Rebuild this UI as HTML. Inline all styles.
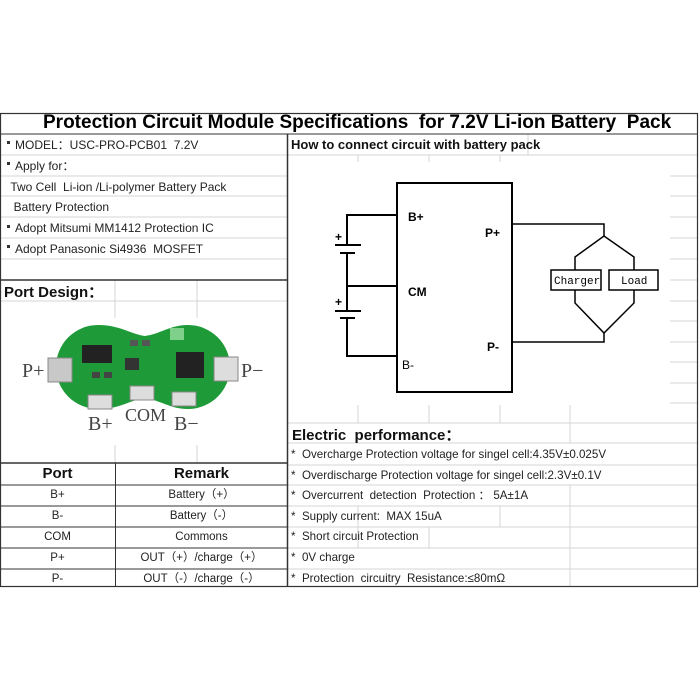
<!DOCTYPE html>
<html><head><style>
body{margin:0;width:700px;height:700px;background:#fff;position:relative;font-family:"Liberation Sans",Arial,sans-serif;overflow:hidden}
.t{position:absolute;white-space:nowrap;color:#222}
.b{display:inline-block;width:3px;height:3px;background:#333;vertical-align:middle;margin-right:5px;position:relative;top:-3px}
</style></head><body>
<svg width="700" height="700" style="position:absolute;left:0;top:0" font-family="Liberation Sans, Arial, sans-serif">
<g stroke="#d4d4d4" stroke-width="1">
<line x1="0" y1="176" x2="287" y2="176"/><line x1="0" y1="196" x2="287" y2="196"/><line x1="0" y1="217" x2="287" y2="217"/><line x1="0" y1="238" x2="287" y2="238"/><line x1="0" y1="259" x2="287" y2="259"/>
<line x1="115" y1="280" x2="115" y2="318"/><line x1="197" y1="280" x2="197" y2="318"/>
<line x1="0" y1="301" x2="287" y2="301"/>
<line x1="115" y1="445" x2="115" y2="463"/><line x1="197" y1="445" x2="197" y2="463"/>
<line x1="287" y1="155" x2="698" y2="155"/>
<line x1="358" y1="155" x2="358" y2="162"/><line x1="429" y1="155" x2="429" y2="162"/><line x1="500" y1="155" x2="500" y2="162"/>
<line x1="528" y1="134" x2="528" y2="155"/>
<line x1="670" y1="176" x2="698" y2="176"/><line x1="670" y1="196" x2="698" y2="196"/><line x1="670" y1="217" x2="698" y2="217"/><line x1="670" y1="238" x2="698" y2="238"/><line x1="670" y1="259" x2="698" y2="259"/><line x1="670" y1="280" x2="698" y2="280"/><line x1="670" y1="301" x2="698" y2="301"/><line x1="670" y1="321" x2="698" y2="321"/><line x1="670" y1="342" x2="698" y2="342"/><line x1="670" y1="362" x2="698" y2="362"/><line x1="670" y1="383" x2="698" y2="383"/><line x1="670" y1="403" x2="698" y2="403"/>
<line x1="358" y1="405" x2="358" y2="423"/><line x1="429" y1="405" x2="429" y2="423"/><line x1="500" y1="405" x2="500" y2="423"/><line x1="570" y1="405" x2="570" y2="443"/>
<line x1="287" y1="423" x2="698" y2="423"/>
<line x1="287" y1="443" x2="698" y2="443"/><line x1="287" y1="465" x2="698" y2="465"/><line x1="287" y1="485" x2="698" y2="485"/><line x1="287" y1="506" x2="698" y2="506"/><line x1="287" y1="527" x2="698" y2="527"/><line x1="287" y1="548" x2="698" y2="548"/><line x1="287" y1="569" x2="698" y2="569"/>
<line x1="358" y1="506" x2="358" y2="548"/><line x1="429" y1="527" x2="429" y2="548"/><line x1="500" y1="506" x2="500" y2="527"/><line x1="570" y1="485" x2="570" y2="587"/>
<line x1="0" y1="155" x2="287" y2="155"/>
</g>
<g stroke="#333" fill="none">
<rect x="0.5" y="113.5" width="697" height="473" stroke-width="1.2"/>
<line x1="0" y1="134" x2="698" y2="134" stroke-width="1"/>
<line x1="287.5" y1="134" x2="287.5" y2="587" stroke-width="1.5"/>
<line x1="0" y1="280" x2="287" y2="280" stroke-width="1.5"/>
<line x1="0" y1="463" x2="287" y2="463" stroke-width="1.5"/>
<line x1="115.5" y1="463" x2="115.5" y2="587"/>
<line x1="0" y1="485" x2="287" y2="485"/><line x1="0" y1="506" x2="287" y2="506"/><line x1="0" y1="527" x2="287" y2="527"/><line x1="0" y1="548" x2="287" y2="548"/><line x1="0" y1="569" x2="287" y2="569"/>
</g>
<g stroke="#000" stroke-width="2" fill="none">
<rect x="397" y="183" width="115" height="209"/>
<polyline points="397,215 347,215 347,245"/>
<line x1="335" y1="245" x2="361" y2="245"/>
<line x1="340" y1="253" x2="355" y2="253"/>
<line x1="347" y1="253" x2="347" y2="311"/>
<line x1="347" y1="286" x2="397" y2="286"/>
<line x1="335" y1="311" x2="361" y2="311"/>
<line x1="340" y1="318" x2="355" y2="318"/>
<polyline points="347,318 347,356 397,356"/>
</g>
<g stroke="#000" stroke-width="1.5" fill="none">
<polyline points="512,224 604,224 604,236"/>
<polyline points="575,270 575,257 604,236 634,257 634,270"/>
<polyline points="575,290 575,303 604,333 634,303 634,290"/>
<polyline points="604,333 604,342 512,342"/>
<rect x="551" y="270" width="50" height="20"/>
<rect x="609" y="270" width="49" height="20"/>
</g>
<g font-size="12" font-weight="bold" fill="#000">
<text x="335" y="241">+</text><text x="335" y="306">+</text>
<text x="408" y="221">B+</text>
<text x="485" y="237">P+</text>
<text x="408" y="296">CM</text>
<text x="487" y="351">P-</text>
<text x="402" y="369" font-weight="normal">B-</text>
</g>
<g font-family="Liberation Mono,monospace" font-size="11" fill="#000">
<text x="554" y="284">Charger</text><text x="621" y="284">Load</text>
</g>
<g>
<path d="M98,325 A42,42 0 0 0 98,409 C120,409 130,400 145,398 C160,400 170,409 188,409 A42,42 0 0 0 188,325 C170,325 160,334 145,336 C130,334 120,325 98,325Z" fill="#1f9a38"/>
<rect x="82" y="345" width="30" height="18" fill="#222"/>
<rect x="176" y="352" width="28" height="26" fill="#222"/>
<rect x="125" y="358" width="14" height="12" fill="#333"/>
<rect x="130" y="340" width="8" height="6" fill="#555"/><rect x="142" y="340" width="8" height="6" fill="#555"/>
<rect x="92" y="372" width="8" height="6" fill="#444"/><rect x="104" y="372" width="8" height="6" fill="#444"/>
<rect x="170" y="328" width="14" height="12" fill="#7fd08a"/>
<rect x="48" y="358" width="24" height="24" fill="#c8c8c8" stroke="#888"/>
<rect x="214" y="357" width="24" height="24" fill="#ddd" stroke="#888"/>
<rect x="88" y="395" width="24" height="14" fill="#ddd" stroke="#888"/>
<rect x="130" y="386" width="24" height="14" fill="#ddd" stroke="#888"/>
<rect x="172" y="392" width="24" height="14" fill="#ddd" stroke="#888"/>
</g>
<g font-family="Liberation Serif,serif" font-size="20" fill="#444">
<text x="22" y="377">P+</text><text x="241" y="377">P−</text>
<text x="88" y="430">B+</text><text x="125" y="421" font-size="18">COM</text><text x="174" y="430">B−</text>
</g>
</svg>
<div class="t" style="left:43px;top:112px;font-size:19px;font-weight:bold;color:#000">Protection Circuit Module Specifications&nbsp; for 7.2V Li-ion Battery&nbsp; Pack</div>
<div style="position:absolute;left:7px;top:135px;font-size:12px;line-height:20.8px;color:#222">
<div><span class="b"></span>MODEL：USC-PRO-PCB01&nbsp; 7.2V</div>
<div><span class="b"></span>Apply for：</div>
<div>&nbsp;Two Cell&nbsp; Li-ion /Li-polymer Battery Pack</div>
<div>&nbsp; Battery Protection</div>
<div><span class="b"></span>Adopt Mitsumi MM1412 Protection IC</div>
<div><span class="b"></span>Adopt Panasonic Si4936&nbsp; MOSFET</div>
</div>
<div class="t" style="left:4px;top:281px;font-size:15px;font-weight:bold;color:#111">Port Design：</div>
<div class="t" style="left:291px;top:137px;font-size:13px;font-weight:bold;color:#111">How to connect circuit with battery pack</div>
<div class="t" style="left:292px;top:424px;font-size:15px;font-weight:bold;color:#111">Electric&nbsp; performance：</div>
<div style="position:absolute;left:291px;top:445px;font-size:11.6px;line-height:20.6px;color:#222">
<div>*&nbsp; Overcharge Protection voltage for singel cell:4.35V±0.025V</div>
<div>*&nbsp; Overdischarge Protection voltage for singel cell:2.3V±0.1V</div>
<div>*&nbsp; Overcurrent&nbsp; detection&nbsp; Protection ：&nbsp;5A±1A</div>
<div>*&nbsp; Supply current:&nbsp; MAX 15uA</div>
<div>*&nbsp; Short circuit Protection</div>
<div>*&nbsp; 0V charge</div>
<div>*&nbsp; Protection&nbsp; circuitry&nbsp; Resistance:≤80mΩ</div>
</div>
<div style="position:absolute;left:0;top:463px;width:115px;text-align:center;font-size:11.5px;color:#222">
<div style="font-size:15px;font-weight:bold;color:#111;line-height:22px">Port</div>
<div style="line-height:21px">B+</div><div style="line-height:21px">B-</div><div style="line-height:21px">COM</div><div style="line-height:21px">P+</div><div style="line-height:21px">P-</div>
</div>
<div style="position:absolute;left:116px;top:463px;width:171px;text-align:center;font-size:11.5px;color:#222">
<div style="font-size:15px;font-weight:bold;color:#111;line-height:22px">Remark</div>
<div style="line-height:21px">Battery（+）</div><div style="line-height:21px">Battery（-）</div><div style="line-height:21px">Commons</div><div style="line-height:21px">OUT（+）/charge（+）</div><div style="line-height:21px">OUT（-）/charge（-）</div>
</div>
</body></html>
